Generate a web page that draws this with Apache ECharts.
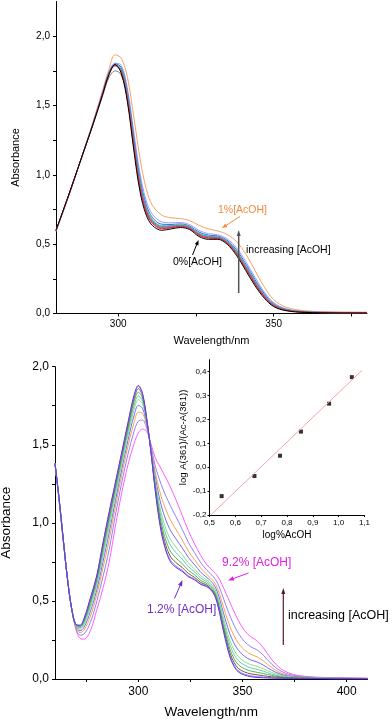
<!DOCTYPE html>
<html>
<head>
<meta charset="utf-8">
<script src="https://cdn.jsdelivr.net/npm/echarts@6/dist/echarts.min.js"></script>
<style>html,body{margin:0;padding:0;background:#fff}#c{width:392px;height:721px}</style>
</head>
<body>
<div id="c"></div>
<script>
// ---------- Top panel (0% -> 1% AcOH) ----------
const wlTop = [280,284,288,292,295,297,299,301,303,305,307,309,311,314,317,320,323,326,329,332,335,338,341,344,347,350,354,360,370,380];
const topBlack0 = [0.60,0.85,1.11,1.37,1.58,1.72,1.795,1.73,1.52,1.18,0.88,0.71,0.635,0.60,0.61,0.62,0.605,0.555,0.535,0.535,0.50,0.42,0.31,0.20,0.11,0.05,0.02,0.008,0.004,0.003];
const topRed = [0.599,0.849,1.11,1.372,1.583,1.724,1.79,1.741,1.538,1.204,0.904,0.729,0.65,0.611,0.618,0.627,0.612,0.563,0.543,0.541,0.507,0.43,0.322,0.211,0.118,0.055,0.023,0.009,0.005,0.004];
const topMagenta = [0.599,0.849,1.11,1.373,1.585,1.726,1.785,1.747,1.547,1.216,0.916,0.739,0.657,0.617,0.622,0.63,0.615,0.567,0.546,0.544,0.511,0.435,0.328,0.217,0.122,0.058,0.024,0.01,0.005,0.004];
const topGray = [0.598,0.848,1.11,1.37,1.57,1.70,1.75,1.72,1.55,1.228,0.928,0.748,0.664,0.622,0.626,0.633,0.618,0.571,0.55,0.547,0.514,0.44,0.334,0.222,0.126,0.06,0.025,0.01,0.006,0.004];
const topGreen = [0.598,0.848,1.11,1.375,1.588,1.73,1.795,1.758,1.565,1.24,0.94,0.758,0.671,0.628,0.63,0.636,0.621,0.575,0.554,0.55,0.518,0.445,0.34,0.228,0.13,0.063,0.026,0.011,0.006,0.005];
const topCyan = [0.597,0.847,1.11,1.376,1.589,1.732,1.795,1.763,1.574,1.252,0.952,0.767,0.679,0.633,0.634,0.64,0.625,0.579,0.558,0.553,0.521,0.45,0.346,0.233,0.134,0.065,0.028,0.012,0.006,0.005];
const topBlue = [0.596,0.846,1.11,1.378,1.592,1.736,1.80,1.774,1.592,1.276,0.976,0.786,0.693,0.644,0.642,0.646,0.631,0.587,0.565,0.559,0.528,0.46,0.358,0.244,0.142,0.07,0.03,0.013,0.007,0.006];
const topLightBlue = [0.595,0.845,1.11,1.381,1.597,1.742,1.805,1.79,1.619,1.312,1.012,0.815,0.715,0.661,0.654,0.656,0.641,0.599,0.576,0.568,0.539,0.475,0.376,0.261,0.154,0.078,0.034,0.015,0.008,0.007];
const topOrange1 = [0.59,0.84,1.11,1.39,1.61,1.76,1.865,1.84,1.70,1.42,1.12,0.90,0.78,0.71,0.69,0.685,0.67,0.635,0.61,0.595,0.57,0.52,0.43,0.31,0.19,0.10,0.045,0.02,0.012,0.01];

// ---------- Bottom panel (1.2% -> 9.2% AcOH) ----------
const wlBot = [260,262,264,266,268,270,272,274,277,280,283,286,289,292,295,298,300,302,304,306,308,310,312,315,318,321,324,327,330,333,336,338,340,342,344,346,348,351,354,357,360,364,368,372,377,385,395,410];
const bot12 = [1.38,1.15,0.89,0.64,0.45,0.35,0.345,0.39,0.52,0.66,0.87,1.07,1.26,1.45,1.64,1.82,1.88,1.83,1.67,1.46,1.22,1.02,0.88,0.76,0.715,0.69,0.655,0.635,0.605,0.59,0.55,0.48,0.36,0.24,0.14,0.08,0.045,0.025,0.015,0.01,0.008,0.006,0.005,0.004,0.004,0.003,0.002,0.002];
const botB = [1.38,1.15,0.89,0.64,0.45,0.35,0.343,0.387,0.516,0.656,0.864,1.064,1.254,1.445,1.635,1.814,1.874,1.825,1.668,1.461,1.224,1.027,0.889,0.77,0.724,0.697,0.661,0.64,0.609,0.593,0.553,0.484,0.365,0.246,0.147,0.087,0.052,0.031,0.02,0.015,0.012,0.008,0.006,0.005,0.004,0.003,0.002,0.002];
const botC = [1.38,1.15,0.89,0.64,0.45,0.35,0.339,0.381,0.505,0.645,0.85,1.048,1.24,1.432,1.621,1.798,1.859,1.814,1.664,1.464,1.234,1.045,0.911,0.794,0.746,0.715,0.676,0.651,0.618,0.6,0.56,0.493,0.378,0.262,0.165,0.105,0.068,0.045,0.033,0.027,0.021,0.014,0.01,0.007,0.005,0.004,0.002,0.002];
const botD = [1.38,1.15,0.89,0.64,0.45,0.346,0.333,0.371,0.491,0.629,0.829,1.025,1.221,1.414,1.602,1.777,1.837,1.798,1.658,1.467,1.248,1.069,0.942,0.827,0.776,0.74,0.696,0.667,0.631,0.61,0.57,0.505,0.395,0.283,0.189,0.129,0.091,0.065,0.051,0.043,0.035,0.023,0.014,0.009,0.007,0.004,0.003,0.002];
const botE = [1.38,1.15,0.89,0.64,0.45,0.343,0.326,0.36,0.474,0.612,0.806,1.0,1.198,1.393,1.581,1.752,1.813,1.779,1.651,1.471,1.264,1.097,0.977,0.866,0.811,0.769,0.72,0.686,0.646,0.621,0.581,0.52,0.415,0.308,0.217,0.157,0.118,0.088,0.071,0.062,0.05,0.032,0.019,0.012,0.008,0.005,0.003,0.003];
const botF = [1.38,1.15,0.89,0.64,0.45,0.341,0.32,0.35,0.457,0.594,0.783,0.974,1.176,1.372,1.559,1.727,1.789,1.761,1.645,1.475,1.28,1.125,1.012,0.904,0.846,0.798,0.744,0.704,0.661,0.632,0.592,0.534,0.435,0.333,0.245,0.185,0.144,0.111,0.092,0.081,0.066,0.042,0.025,0.015,0.009,0.006,0.004,0.003];
const botG = [1.38,1.15,0.89,0.64,0.45,0.337,0.309,0.333,0.432,0.568,0.748,0.936,1.142,1.341,1.527,1.69,1.752,1.733,1.634,1.481,1.304,1.167,1.065,0.962,0.898,0.841,0.779,0.732,0.683,0.649,0.609,0.556,0.465,0.37,0.287,0.227,0.184,0.145,0.122,0.109,0.089,0.056,0.032,0.019,0.012,0.007,0.005,0.003];
const botH = [1.38,1.14,0.88,0.64,0.45,0.333,0.297,0.314,0.402,0.537,0.708,0.891,1.103,1.304,1.489,1.646,1.709,1.701,1.622,1.488,1.332,1.216,1.126,1.029,0.959,0.892,0.82,0.764,0.709,0.668,0.628,0.581,0.5,0.414,0.336,0.276,0.23,0.185,0.158,0.142,0.116,0.073,0.041,0.024,0.014,0.008,0.005,0.004];
const botI = [1.38,1.14,0.88,0.64,0.45,0.328,0.281,0.289,0.363,0.495,0.653,0.83,1.05,1.255,1.438,1.588,1.651,1.658,1.606,1.498,1.37,1.283,1.21,1.12,1.041,0.96,0.876,0.808,0.744,0.695,0.655,0.615,0.548,0.473,0.403,0.343,0.293,0.239,0.206,0.186,0.152,0.095,0.054,0.031,0.018,0.01,0.007,0.004];
const bot92 = [1.38,1.14,0.88,0.64,0.45,0.32,0.26,0.255,0.31,0.44,0.58,0.75,0.98,1.19,1.37,1.51,1.575,1.60,1.585,1.51,1.42,1.37,1.32,1.24,1.15,1.05,0.95,0.865,0.79,0.73,0.69,0.66,0.61,0.55,0.49,0.43,0.375,0.31,0.27,0.245,0.20,0.125,0.07,0.04,0.022,0.012,0.008,0.005];

// ---------- Inset ----------
const insetX = [0.547,0.674,0.773,0.854,0.963,1.051];
const insetY = [-0.121,-0.037,0.048,0.149,0.266,0.377];
const fitX = [0.505,1.09];
const fitY = [-0.2,0.405];

// tick label values
const xLabTop = [300,350];
const xTickTop = [300,325,350,375];
const xLabBot = [300,350,400];
const xTickBot = [275,300,325,350,375,400];
const yLabMain = [0,0.5,1.0,1.5,2.0];
const yTickMain = [0,0.25,0.5,0.75,1.0,1.25,1.5,1.75,2.0];
const yLabInset = [-0.2,-0.1,0,0.1,0.2,0.3,0.4];

const FONT = '"Liberation Sans", Arial, Helvetica, sans-serif';
const comma = v => v.toFixed(1).replace('.', ',');
const pair = (xs, ys) => xs.map((x, i) => [x, ys[i]]);

function line(name, xs, ys, color, g) {
  return { name, type: 'line', xAxisIndex: g, yAxisIndex: g, data: pair(xs, ys),
    symbol: 'none', smooth: 0.35, lineStyle: { color, width: 1 }, silent: true, z: 2 };
}

const topSeries = [
  line('1%', wlTop, topOrange1, '#f5a263', 0),
  line('lb', wlTop, topLightBlue, '#8da2ff', 0),
  line('bl', wlTop, topBlue, '#4a5cf0', 0),
  line('cy', wlTop, topCyan, '#3cc6d2', 0),
  line('gr', wlTop, topGreen, '#3cb43c', 0),
  line('gy', wlTop, topGray, '#7c7c7c', 0),
  line('mg', wlTop, topMagenta, '#d03cd0', 0),
  line('rd', wlTop, topRed, '#e02828', 0),
  line('0%', wlTop, topBlack0, '#000000', 0)
];
const botSeries = [
  line('9.2%', wlBot, bot92, '#ff5cff', 1),
  line('i', wlBot, botI, '#8d80ff', 1),
  line('h', wlBot, botH, '#ffa050', 1),
  line('g', wlBot, botG, '#6e6ef2', 1),
  line('f', wlBot, botF, '#8ddc8d', 1),
  line('e', wlBot, botE, '#6cc8b4', 1),
  line('d', wlBot, botD, '#4fb64f', 1),
  line('c', wlBot, botC, '#8b4a3a', 1),
  line('b', wlBot, botB, '#8585ff', 1),
  line('1.2%', wlBot, bot12, '#6238d8', 1)
];

const axisBase = (fs) => ({
  axisLine: { show: true, onZero: false, lineStyle: { color: '#000', width: 1 } },
  splitLine: { show: false },
  axisLabel: { color: '#000', fontSize: fs, fontFamily: FONT },
  axisTick: { show: true, length: 3, lineStyle: { color: '#000' } },
  nameTextStyle: { color: '#000', fontFamily: FONT }
});

function mk(base, extra) {
  const o = JSON.parse(JSON.stringify(base));
  for (const k in extra) {
    if (typeof extra[k] === 'object' && !Array.isArray(extra[k]) && o[k]) Object.assign(o[k], extra[k]);
    else o[k] = extra[k];
  }
  return o;
}

const xAxes = [
  mk(axisBase(10), { type: 'value', gridIndex: 0, min: 280, max: 380,
    axisLabel: { customValues: xLabTop, margin: 6 }, axisTick: { customValues: xTickTop },
    name: 'Wavelength/nm', nameLocation: 'middle', nameGap: 22, nameTextStyle: { fontSize: 11 } }),
  mk(axisBase(12), { type: 'value', gridIndex: 1, min: 260, max: 410,
    axisLabel: { customValues: xLabBot, margin: 7 }, axisTick: { customValues: xTickBot },
    name: 'Wavelength/nm', nameLocation: 'middle', nameGap: 26, nameTextStyle: { fontSize: 13.5 } }),
  mk(axisBase(8), { type: 'value', gridIndex: 2, min: 0.5, max: 1.1, interval: 0.1,
    axisLabel: { margin: 4 }, axisTick: { length: 2 },
    name: 'log%AcOH', nameLocation: 'middle', nameGap: 15, nameTextStyle: { fontSize: 10 } })
];
const yAxes = [
  mk(axisBase(10), { type: 'value', gridIndex: 0, min: 0, max: 2.25,
    axisLabel: { customValues: yLabMain, margin: 6 }, axisTick: { customValues: yTickMain },
    name: 'Absorbance', nameLocation: 'middle', nameGap: 35, nameTextStyle: { fontSize: 11 } }),
  mk(axisBase(12), { type: 'value', gridIndex: 1, min: 0, max: 2.0,
    axisLabel: { customValues: yLabMain, margin: 6 }, axisTick: { customValues: yTickMain },
    name: 'Absorbance', nameLocation: 'middle', nameGap: 42, nameTextStyle: { fontSize: 13.5 } }),
  mk(axisBase(8), { type: 'value', gridIndex: 2, min: -0.2, max: 0.45,
    axisLabel: { customValues: yLabInset, margin: 3 }, axisTick: { customValues: yLabInset, length: 2 },
    name: 'log A(361)/(Ac-A(361))', nameLocation: 'middle', nameGap: 19, nameTextStyle: { fontSize: 9.5 } })
];
xAxes.forEach(a => { a.axisLabel.formatter = (v) => (a.gridIndex === 2 ? comma(v) : String(Math.round(v))); });
yAxes.forEach(a => { a.axisLabel.formatter = comma; });

function arrow(x1, y1, x2, y2, color, w, L, H) {
  const a = Math.atan2(y2 - y1, x2 - x1), c = Math.cos(a), s = Math.sin(a);
  return [
    { type: 'line', shape: { x1, y1, x2: x2 - c * L * 0.6, y2: y2 - s * L * 0.6 }, style: { stroke: color, lineWidth: w }, z: 10 },
    { type: 'polygon', shape: { points: [[x2, y2], [x2 - c * L + s * H, y2 - s * L - c * H], [x2 - c * L - s * H, y2 - s * L + c * H]] }, style: { fill: color }, z: 10 }
  ];
}
function txt(t, x, y, color, size) {
  return { type: 'text', x, y, z: 10, style: { text: t, fill: color, font: size + 'px ' + FONT, align: 'left', verticalAlign: 'middle' } };
}

const graphics = [].concat(
  [txt('1%[AcOH]', 218, 210, '#f08a40', 10.5)],
  arrow(240, 216.5, 222, 228, '#f08a40', 1, 5, 2),
  [txt('0%[AcOH]', 173, 262, '#000', 10.5)],
  arrow(192.5, 255, 198.5, 240, '#000', 1, 5, 2),
  [txt('increasing [AcOH]', 246, 250, '#000', 10.5)],
  arrow(238.7, 293, 238.7, 230, '#555', 1.5, 6, 2),
  [txt('9.2% [AcOH]', 222, 563, '#e020e0', 12)],
  arrow(248.5, 573, 228, 580.5, '#e020e0', 1, 6, 2.2),
  [txt('1.2% [AcOH]', 147, 609.5, '#7030c8', 12)],
  arrow(174.5, 598.5, 182.5, 580, '#7030c8', 1, 6, 2.2),
  [txt('increasing [AcOH]', 288, 616, '#000', 12.5)],
  arrow(283.3, 645, 283.3, 588, '#5a1a2a', 1.2, 6, 2)
);

const chart = echarts.init(document.getElementById('c'), null, { renderer: 'canvas', width: 392, height: 721 });
chart.setOption({
  animation: false,
  backgroundColor: '#fff',
  textStyle: { fontFamily: FONT },
  grid: [
    { left: 56, width: 311, top: 1.5, height: 312, containLabel: false, outerBoundsMode: 'none' },
    { left: 55, width: 312.5, top: 366.7, height: 312.3, containLabel: false, outerBoundsMode: 'none' },
    { left: 209.5, width: 155, top: 359.7, height: 155.3, containLabel: false, outerBoundsMode: 'none' }
  ],
  xAxis: xAxes,
  yAxis: yAxes,
  series: topSeries.concat(botSeries).concat([
    { type: 'line', xAxisIndex: 2, yAxisIndex: 2, data: pair(fitX, fitY), symbol: 'none',
      lineStyle: { color: '#f4a3a3', width: 1 }, silent: true },
    { type: 'scatter', xAxisIndex: 2, yAxisIndex: 2, data: pair(insetX, insetY), symbol: 'rect',
      symbolSize: 4, itemStyle: { color: '#000' }, silent: true }
  ]),
  graphic: graphics
});
</script>
</body>
</html>
